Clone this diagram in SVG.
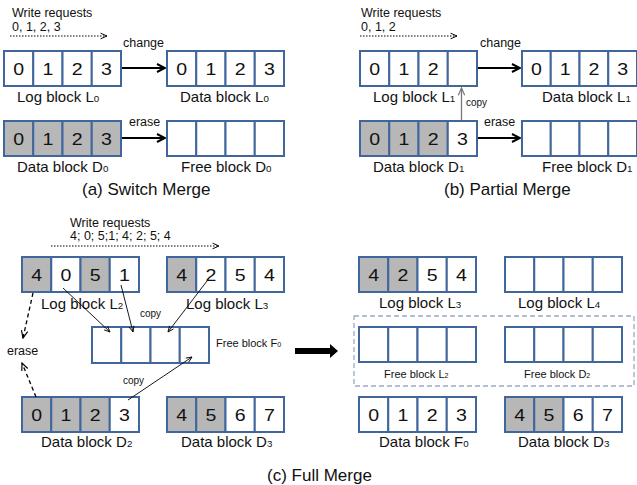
<svg xmlns="http://www.w3.org/2000/svg" width="637" height="485" viewBox="0 0 637 485">
<defs>
<style>
text{font-family:"Liberation Sans",Arial,sans-serif;fill:#111}
.c{fill:#fff;stroke:#41669b;stroke-width:2}
.g{fill:#b7b7b7;stroke:#41669b;stroke-width:2}
.d{font-size:17px;text-anchor:middle;transform-box:fill-box;transform-origin:center;transform:scaleX(1.15)}
.lb{font-size:15px}
.sm{font-size:12.5px}
.xs{font-size:10px}
.fs{font-size:11px}
.cap{font-size:17px}
.sub{font-size:0.65em}
.ar{stroke:#000;stroke-width:2;fill:none}
.th{stroke:#000;stroke-width:0.9;fill:none}
.dot{stroke:#000;stroke-width:1;stroke-dasharray:1.5 1.5;fill:none}
.dash{stroke:#000;stroke-width:1.3;stroke-dasharray:4 3;fill:none}
</style>
<marker id="mA" viewBox="0 0 10 10" refX="9" refY="5" markerWidth="5" markerHeight="5" orient="auto" markerUnits="strokeWidth"><path d="M1,1 L9,5 L1,9" fill="none" stroke="#000" stroke-width="2"/></marker>
<marker id="mT" viewBox="0 0 10 10" refX="9" refY="5" markerWidth="8" markerHeight="8" orient="auto" markerUnits="strokeWidth"><path d="M1,1.5 L9,5 L1,8.5" fill="none" stroke="#000" stroke-width="1.2"/></marker>
<marker id="mG" viewBox="0 0 10 10" refX="9" refY="5" markerWidth="7" markerHeight="7" orient="auto" markerUnits="strokeWidth"><path d="M1,1.5 L9,5 L1,8.5" fill="none" stroke="#777" stroke-width="1.3"/></marker>
<marker id="mD" viewBox="0 0 10 10" refX="9" refY="5" markerWidth="7" markerHeight="7" orient="auto" markerUnits="strokeWidth"><path d="M1,1.5 L9,5 L1,8.5" fill="none" stroke="#000" stroke-width="1.3"/></marker>
</defs>
<rect width="637" height="485" fill="#fff"/>

<!-- (a) Switch Merge -->
<g id="a-log-L0">
<rect class="c" x="4" y="51" width="29.25" height="35"/><rect class="c" x="33.25" y="51" width="29.25" height="35"/><rect class="c" x="62.5" y="51" width="29.25" height="35"/><rect class="c" x="91.75" y="51" width="29.25" height="35"/>
<text class="d" x="18.6" y="75.5">0</text><text class="d" x="47.9" y="75.5">1</text><text class="d" x="77.1" y="75.5">2</text><text class="d" x="106.4" y="75.5">3</text>
<text class="lb" x="17" y="102">Log block L<tspan class="sub">0</tspan></text>
</g>
<g id="a-data-L0">
<rect class="c" x="167" y="51" width="29.25" height="35"/><rect class="c" x="196.25" y="51" width="29.25" height="35"/><rect class="c" x="225.5" y="51" width="29.25" height="35"/><rect class="c" x="254.75" y="51" width="29.25" height="35"/>
<text class="d" x="181.6" y="75.5">0</text><text class="d" x="210.9" y="75.5">1</text><text class="d" x="240.1" y="75.5">2</text><text class="d" x="269.4" y="75.5">3</text>
<text class="lb" x="180" y="102">Data block L<tspan class="sub">0</tspan></text>
</g>
<g id="a-data-D0">
<rect class="g" x="4" y="121" width="29.25" height="35"/><rect class="g" x="33.25" y="121" width="29.25" height="35"/><rect class="g" x="62.5" y="121" width="29.25" height="35"/><rect class="g" x="91.75" y="121" width="29.25" height="35"/>
<text class="d" x="18.6" y="145.5">0</text><text class="d" x="47.9" y="145.5">1</text><text class="d" x="77.1" y="145.5">2</text><text class="d" x="106.4" y="145.5">3</text>
<text class="lb" x="17" y="172">Data block D<tspan class="sub">0</tspan></text>
</g>
<g id="a-free-D0">
<rect class="c" x="167" y="121" width="29.25" height="35"/><rect class="c" x="196.25" y="121" width="29.25" height="35"/><rect class="c" x="225.5" y="121" width="29.25" height="35"/><rect class="c" x="254.75" y="121" width="29.25" height="35"/>
<text class="lb" x="181" y="172">Free block D<tspan class="sub">0</tspan></text>
</g>
<g id="a-labels">
<text class="sm" x="12" y="17">Write requests</text>
<text class="sm" x="12" y="31">0, 1, 2, 3</text>
<text class="sm" x="123" y="47">change</text>
<text class="sm" x="129" y="126">erase</text>
<text class="cap" x="82" y="195">(a) Switch Merge</text>
</g>

<!-- (b) Partial Merge -->
<g id="b-log-L1">
<rect class="c" x="360" y="51" width="29.25" height="35"/><rect class="c" x="389.25" y="51" width="29.25" height="35"/><rect class="c" x="418.5" y="51" width="29.25" height="35"/><rect class="c" x="447.75" y="51" width="29.25" height="35"/>
<text class="d" x="374.6" y="75.5">0</text><text class="d" x="403.9" y="75.5">1</text><text class="d" x="433.1" y="75.5">2</text>
<text class="lb" x="373" y="102">Log block L<tspan class="sub">1</tspan></text>
</g>
<g id="b-data-L1">
<rect class="c" x="522" y="51" width="28.75" height="35"/><rect class="c" x="550.75" y="51" width="28.75" height="35"/><rect class="c" x="579.5" y="51" width="28.75" height="35"/><rect class="c" x="608.25" y="51" width="28.75" height="35"/>
<text class="d" x="536.4" y="75.5">0</text><text class="d" x="565.1" y="75.5">1</text><text class="d" x="593.9" y="75.5">2</text><text class="d" x="622.6" y="75.5">3</text>
<text class="lb" x="542" y="102">Data block L<tspan class="sub">1</tspan></text>
</g>
<g id="b-data-D1">
<rect class="g" x="360" y="121" width="29.25" height="35"/><rect class="g" x="389.25" y="121" width="29.25" height="35"/><rect class="g" x="418.5" y="121" width="29.25" height="35"/><rect class="c" x="447.75" y="121" width="29.25" height="35"/>
<text class="d" x="374.6" y="145.5">0</text><text class="d" x="403.9" y="145.5">1</text><text class="d" x="433.1" y="145.5">2</text><text class="d" x="462.4" y="145.5">3</text>
<text class="lb" x="373" y="172">Data block D<tspan class="sub">1</tspan></text>
</g>
<g id="b-free-D1">
<rect class="c" x="522" y="121" width="28.75" height="35"/><rect class="c" x="550.75" y="121" width="28.75" height="35"/><rect class="c" x="579.5" y="121" width="28.75" height="35"/><rect class="c" x="608.25" y="121" width="28.75" height="35"/>
<text class="lb" x="542" y="172">Free block D<tspan class="sub">1</tspan></text>
</g>
<g id="b-labels">
<text class="sm" x="361" y="17">Write requests</text>
<text class="sm" x="361" y="31">0, 1, 2</text>
<text class="sm" x="480" y="47">change</text>
<text class="sm" x="484" y="126">erase</text>
<text class="xs" x="466" y="106">copy</text>
<text class="cap" x="444" y="195">(b) Partial Merge</text>
</g>

<!-- (c) Full Merge -->
<g id="c-log-L2">
<rect class="g" x="22" y="257" width="29.25" height="35"/><rect class="c" x="51.25" y="257" width="29.25" height="35"/><rect class="g" x="80.5" y="257" width="29.25" height="35"/><rect class="c" x="109.75" y="257" width="29.25" height="35"/>
<text class="d" x="36.6" y="281.5">4</text><text class="d" x="65.9" y="281.5">0</text><text class="d" x="95.1" y="281.5">5</text><text class="d" x="124.4" y="281.5">1</text>
<text class="lb" x="41" y="309">Log block L<tspan class="sub">2</tspan></text>
</g>
<g id="c-log-L3">
<rect class="g" x="167" y="257" width="29.25" height="35"/><rect class="c" x="196.25" y="257" width="29.25" height="35"/><rect class="c" x="225.5" y="257" width="29.25" height="35"/><rect class="c" x="254.75" y="257" width="29.25" height="35"/>
<text class="d" x="181.6" y="281.5">4</text><text class="d" x="210.9" y="281.5">2</text><text class="d" x="240.1" y="281.5">5</text><text class="d" x="269.4" y="281.5">4</text>
<text class="lb" x="186" y="309">Log block L<tspan class="sub">3</tspan></text>
</g>
<g id="c-free-F0">
<rect class="c" x="92" y="327" width="29.25" height="36"/><rect class="c" x="121.25" y="327" width="29.25" height="36"/><rect class="c" x="150.5" y="327" width="29.25" height="36"/><rect class="c" x="179.75" y="327" width="29.25" height="36"/>
<text class="fs" x="216" y="347">Free block F<tspan class="sub">0</tspan></text>
</g>
<g id="c-data-D2">
<rect class="g" x="22" y="397" width="29.25" height="35"/><rect class="g" x="51.25" y="397" width="29.25" height="35"/><rect class="g" x="80.5" y="397" width="29.25" height="35"/><rect class="c" x="109.75" y="397" width="29.25" height="35"/>
<text class="d" x="36.6" y="421.5">0</text><text class="d" x="65.9" y="421.5">1</text><text class="d" x="95.1" y="421.5">2</text><text class="d" x="124.4" y="421.5">3</text>
<text class="lb" x="41" y="447">Data block D<tspan class="sub">2</tspan></text>
</g>
<g id="c-data-D3">
<rect class="g" x="167" y="397" width="29.25" height="35"/><rect class="g" x="196.25" y="397" width="29.25" height="35"/><rect class="c" x="225.5" y="397" width="29.25" height="35"/><rect class="c" x="254.75" y="397" width="29.25" height="35"/>
<text class="d" x="181.6" y="421.5">4</text><text class="d" x="210.9" y="421.5">5</text><text class="d" x="240.1" y="421.5">6</text><text class="d" x="269.4" y="421.5">7</text>
<text class="lb" x="181" y="447">Data block D<tspan class="sub">3</tspan></text>
</g>
<g id="c-labels">
<text class="sm" x="70" y="227">Write requests</text>
<text class="sm" x="70" y="240">4; 0; 5;1; 4; 2; 5; 4</text>
<text class="xs" x="140" y="317">copy</text>
<text class="xs" x="123" y="384">copy</text>
<text class="sm" x="7" y="355">erase</text>
<text class="cap" x="267" y="481">(c) Full Merge</text>
</g>

<!-- result side -->
<g id="r-log-L3">
<rect class="g" x="359" y="257" width="29.25" height="35"/><rect class="g" x="388.25" y="257" width="29.25" height="35"/><rect class="c" x="417.5" y="257" width="29.25" height="35"/><rect class="c" x="446.75" y="257" width="29.25" height="35"/>
<text class="d" x="373.6" y="281.5">4</text><text class="d" x="402.9" y="281.5">2</text><text class="d" x="432.1" y="281.5">5</text><text class="d" x="461.4" y="281.5">4</text>
<text class="lb" x="379" y="308">Log block L<tspan class="sub">3</tspan></text>
</g>
<g id="r-log-L4">
<rect class="c" x="505" y="257" width="29.25" height="35"/><rect class="c" x="534.25" y="257" width="29.25" height="35"/><rect class="c" x="563.5" y="257" width="29.25" height="35"/><rect class="c" x="592.75" y="257" width="29.25" height="35"/>
<text class="lb" x="518" y="308">Log block L<tspan class="sub">4</tspan></text>
</g>
<g id="r-free-group">
<rect x="354" y="316" width="280" height="70" fill="none" stroke="#9aabc2" stroke-width="1.3" stroke-dasharray="5 3"/>
</g>
<g id="r-free-L2">
<rect class="c" x="359" y="327" width="29.25" height="35"/><rect class="c" x="388.25" y="327" width="29.25" height="35"/><rect class="c" x="417.5" y="327" width="29.25" height="35"/><rect class="c" x="446.75" y="327" width="29.25" height="35"/>
<text class="fs" x="384" y="378">Free block L<tspan class="sub">2</tspan></text>
</g>
<g id="r-free-D2">
<rect class="c" x="505" y="327" width="29.25" height="35"/><rect class="c" x="534.25" y="327" width="29.25" height="35"/><rect class="c" x="563.5" y="327" width="29.25" height="35"/><rect class="c" x="592.75" y="327" width="29.25" height="35"/>
<text class="fs" x="524" y="378">Free block D<tspan class="sub">2</tspan></text>
</g>
<g id="r-data-F0">
<rect class="c" x="359" y="397" width="29.25" height="35"/><rect class="c" x="388.25" y="397" width="29.25" height="35"/><rect class="c" x="417.5" y="397" width="29.25" height="35"/><rect class="c" x="446.75" y="397" width="29.25" height="35"/>
<text class="d" x="373.6" y="421.5">0</text><text class="d" x="402.9" y="421.5">1</text><text class="d" x="432.1" y="421.5">2</text><text class="d" x="461.4" y="421.5">3</text>
<text class="lb" x="379" y="447">Data block F<tspan class="sub">0</tspan></text>
</g>
<g id="r-data-D3">
<rect class="g" x="505" y="397" width="29.25" height="35"/><rect class="g" x="534.25" y="397" width="29.25" height="35"/><rect class="c" x="563.5" y="397" width="29.25" height="35"/><rect class="c" x="592.75" y="397" width="29.25" height="35"/>
<text class="d" x="519.6" y="421.5">4</text><text class="d" x="548.9" y="421.5">5</text><text class="d" x="578.1" y="421.5">6</text><text class="d" x="607.4" y="421.5">7</text>
<text class="lb" x="518" y="447">Data block D<tspan class="sub">3</tspan></text>
</g>

<g id="connectors">
<path class="dot" d="M10,36 H107" marker-end="url(#mT)"/>
<path class="dot" d="M360,36 H457" marker-end="url(#mT)"/>
<path class="dot" d="M51,246 H219" marker-end="url(#mT)"/>
<path class="ar" d="M122,68 H165" marker-end="url(#mA)"/>
<path class="ar" d="M122,138 H165" marker-end="url(#mA)"/>
<path class="ar" d="M478,68 H520" marker-end="url(#mA)"/>
<path class="ar" d="M478,138 H520" marker-end="url(#mA)"/>
<path d="M461.5,120 V88" stroke="#777" stroke-width="1.3" fill="none" marker-end="url(#mG)"/>
<path class="th" d="M63,288 L110,332" marker-end="url(#mT)"/>
<path class="th" d="M121,285 L133,332" marker-end="url(#mT)"/>
<path class="th" d="M207,281 L168,332" marker-end="url(#mT)"/>
<path class="th" d="M128,400 L192,357" marker-end="url(#mT)"/>
<path class="dash" d="M33,293 L23,338" marker-end="url(#mD)"/>
<path class="dash" d="M36,397 L22,363" marker-end="url(#mD)"/>
<polygon points="295,348 330,348 330,344 338,351 330,358 330,354 295,354" fill="#000"/>
</g>
</svg>
